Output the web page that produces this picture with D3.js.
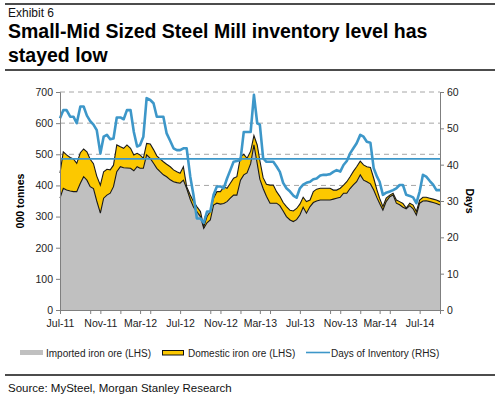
<!DOCTYPE html>
<html>
<head>
<meta charset="utf-8">
<script src="https://cdn.jsdelivr.net/npm/d3@7"></script>
<style>
  body { margin: 0; background: #fff; }
  svg { font-family: "Liberation Sans", Arial, sans-serif; }
</style>
</head>
<body>
<svg id="chart" width="500" height="398"></svg>
<script>
// readings taken every ~10 days (1st, 11th, 21st of each month)
const days = [
  52.8,55,55,53.2,53.2,51.4,56,56,53.5,52,
  51,49.5,43.1,47.7,48.2,47,47.2,53,53,52.5,
  55,55,49,45,45.4,47.7,58.3,57.8,56.9,53.2,
  53.2,53.2,48.6,46.5,44.5,44,44,44.5,44.5,36.7,
  31.5,25.2,25.2,24,27.1,27.1,31.7,34,34,33.5,
  36.2,38.5,40.8,41,41.3,49,49,49,59.2,51.4,
  51,41.8,40.8,40.8,40.8,39.5,38,35,33.5,32.6,
  31.5,30.9,33.5,34.5,35,35.3,36,36.2,37,37.2,
  37.2,37.4,38,38.5,38.1,39.9,41,43.1,44.5,45.9,
  48.2,47.7,46.3,46,39,36.7,35.3,31.7,32.3,32.6,
  33,33.5,34.4,34.4,31.7,31.4,31,29.4,32.6,37.2,
  36.7,35.5,34.5,33,33
];
// imported + domestic (top of yellow band), 000 tonnes
const totalOre = [
  440,508,498,490,485,471,505,517,508,484,
  470,430,401,444,452,450,465,530,524,519,
  530,519,498,503,498,487,535,533,515,495,
  485,476,468,460,450,444,439,460,396,369,
  348,332,316,267,300,316,359,380,380,396,
  391,407,423,428,492,500,487,510,560,530,
  480,425,404,401,401,380,365,345,332,320,
  318,326,340,362,348,353,380,388,391,391,
  391,391,385,385,391,401,412,428,445,460,
  478,466,460,458,423,385,359,332,359,369,
  375,353,348,342,327,343,337,316,353,362,
  362,359,356,353,348
];
const importedOre = [
  359,391,385,382,380,380,407,428,417,396,
  390,350,311,359,369,375,396,444,460,457,
  456,455,447,460,455,455,498,487,471,455,
  444,434,428,418,412,409,407,417,390,355,
  330,316,300,262,280,289,337,343,340,342,
  348,359,369,369,417,434,440,470,530,470,
  420,390,365,343,343,343,335,318,300,289,
  284,290,305,330,311,332,345,350,353,353,
  353,353,356,359,362,375,375,390,402,412,
  434,417,412,405,385,360,342,321,348,364,
  369,343,338,330,325,335,325,305,343,350,
  351,348,345,342,337
];
const avgDays = 41.6;
const leftTicks = [0,100,200,300,400,500,600,700];
const rightTicks = [0,10,20,30,40,50,60];
const legendItems = ["Imported iron ore (LHS)", "Domestic iron ore (LHS)", "Days of Inventory (RHS)"];

const start = new Date(2011, 6, 1), end = new Date(2014, 8, 1);
const dates = [];
d3.timeMonth.range(start, end).forEach(m => {
  [1, 11, 21].forEach(dd => dates.push(new Date(m.getFullYear(), m.getMonth(), dd)));
});
dates.push(end);

const rows = dates.map((d, i) => ({ date: d, days: days[i], total: totalOre[i], imported: importedOre[i] }));

const svg = d3.select("#chart");
const L = 60, R = 440, T = 92, B = 310;

const x = d3.scaleTime().domain([start, end]).range([L, R]);
const yL = d3.scaleLinear().domain([0, 700]).range([B, T]);
const yR = d3.scaleLinear().domain([0, 60]).range([B, T]);

// header
svg.append("line").attr("x1", 5).attr("x2", 495).attr("y1", 4).attr("y2", 4)
  .attr("stroke", "#111").attr("stroke-width", 1.6);
svg.append("text").attr("x", 8).attr("y", 17).attr("font-size", 12).attr("fill", "#111").text("Exhibit 6");
svg.append("text").attr("x", 8).attr("y", 38).attr("font-size", 19.5).attr("font-weight", "bold")
  .attr("fill", "#000").text("Small-Mid Sized Steel Mill inventory level has");
svg.append("text").attr("x", 8).attr("y", 62).attr("font-size", 19.5).attr("font-weight", "bold")
  .attr("fill", "#000").text("stayed low");
svg.append("line").attr("x1", 5).attr("x2", 495).attr("y1", 70).attr("y2", 70)
  .attr("stroke", "#111").attr("stroke-width", 1.6);

// grid
svg.append("g").selectAll("line").data(leftTicks.filter(v => v > 0)).enter().append("line")
  .attr("x1", L).attr("x2", R).attr("y1", d => yL(d)).attr("y2", d => yL(d))
  .attr("stroke", "#a6a6a6").attr("stroke-width", 1).attr("stroke-dasharray", "5,4");

// areas
const areaTotal = d3.area().x(d => x(d.date)).y0(B).y1(d => yL(d.total));
const areaImp = d3.area().x(d => x(d.date)).y0(B).y1(d => yL(d.imported));
svg.append("path").datum(rows).attr("d", areaTotal).attr("fill", "#fcc800");
svg.append("path").datum(rows).attr("d", areaImp).attr("fill", "#c0c0c0");
svg.append("path").datum(rows).attr("d", d3.line().x(d => x(d.date)).y(d => yL(d.total)))
  .attr("fill", "none").attr("stroke", "#1a1a1a").attr("stroke-width", 1.1);
svg.append("path").datum(rows).attr("d", d3.line().x(d => x(d.date)).y(d => yL(d.imported)))
  .attr("fill", "none").attr("stroke", "#1a1a1a").attr("stroke-width", 1.1);

// days line + average
const blue = "#3d97c9";
svg.append("line").attr("x1", L).attr("x2", R).attr("y1", yR(avgDays)).attr("y2", yR(avgDays))
  .attr("stroke", blue).attr("stroke-width", 1.7);
svg.append("path").datum(rows).attr("d", d3.line().x(d => x(d.date)).y(d => yR(d.days)))
  .attr("fill", "none").attr("stroke", blue).attr("stroke-width", 2.6).attr("stroke-linejoin", "round");

// axes
const axisColor = "#7f7f7f";
svg.append("g").attr("transform", `translate(${L},0)`)
  .call(d3.axisLeft(yL).tickValues(leftTicks).tickSize(4).tickPadding(3));
svg.append("g").attr("transform", `translate(${R},0)`)
  .call(d3.axisRight(yR).tickValues(rightTicks).tickSize(4).tickPadding(3));

const tickDates = d3.timeMonth.range(start, d3.timeMonth.offset(end, 1))
  .filter(d => { const k = (d.getFullYear() - 2011) * 12 + d.getMonth() - 6; return k % 3 === 0 || k % 4 === 0; });
const labelDates = tickDates.filter(d => ((d.getFullYear() - 2011) * 12 + d.getMonth() - 6) % 4 === 0 && d < end);
svg.append("g").attr("transform", `translate(0,${B})`)
  .call(d3.axisBottom(x).tickValues(tickDates).tickSize(4).tickFormat(""));
svg.append("g").attr("transform", `translate(0,${B})`)
  .call(d3.axisBottom(x).tickValues(labelDates).tickSize(0).tickPadding(10).tickFormat(d3.timeFormat("%b-%y")))
  .call(g => g.select(".domain").remove());

svg.selectAll(".domain").attr("stroke", axisColor);
svg.selectAll(".tick line").attr("stroke", axisColor);
svg.selectAll(".tick text").attr("font-size", 10.5).attr("fill", "#222")
  .attr("font-family", "'Liberation Sans', Arial, sans-serif");

svg.append("text").attr("transform", `translate(24,${(T + B) / 2}) rotate(-90)`)
  .attr("text-anchor", "middle").attr("font-size", 10.5).attr("font-weight", "bold").text("000 tonnes");
svg.append("text").attr("transform", `translate(466,${(T + B) / 2}) rotate(90)`)
  .attr("text-anchor", "middle").attr("font-size", 10.5).attr("font-weight", "bold").text("Days");

// legend
const lg = svg.append("g").attr("font-size", 10).attr("fill", "#222");
lg.append("rect").attr("x", 20).attr("y", 350).attr("width", 23).attr("height", 5).attr("fill", "#c0c0c0");
lg.append("text").attr("x", 46).attr("y", 356.5).text(legendItems[0]);
lg.append("rect").attr("x", 162.5).attr("y", 350.5).attr("width", 21).attr("height", 4.5)
  .attr("fill", "#fcc800").attr("stroke", "#111").attr("stroke-width", 1);
lg.append("text").attr("x", 188).attr("y", 356.5).text(legendItems[1]);
lg.append("line").attr("x1", 306).attr("x2", 330).attr("y1", 352.5).attr("y2", 352.5)
  .attr("stroke", blue).attr("stroke-width", 1.6);
lg.append("text").attr("x", 331).attr("y", 356.5).text(legendItems[2]);

// footer
svg.append("line").attr("x1", 5).attr("x2", 495).attr("y1", 375).attr("y2", 375)
  .attr("stroke", "#111").attr("stroke-width", 1.6);
svg.append("text").attr("x", 8).attr("y", 392).attr("font-size", 11.5).attr("fill", "#111")
  .text("Source: MySteel, Morgan Stanley Research");
</script>
</body>
</html>
